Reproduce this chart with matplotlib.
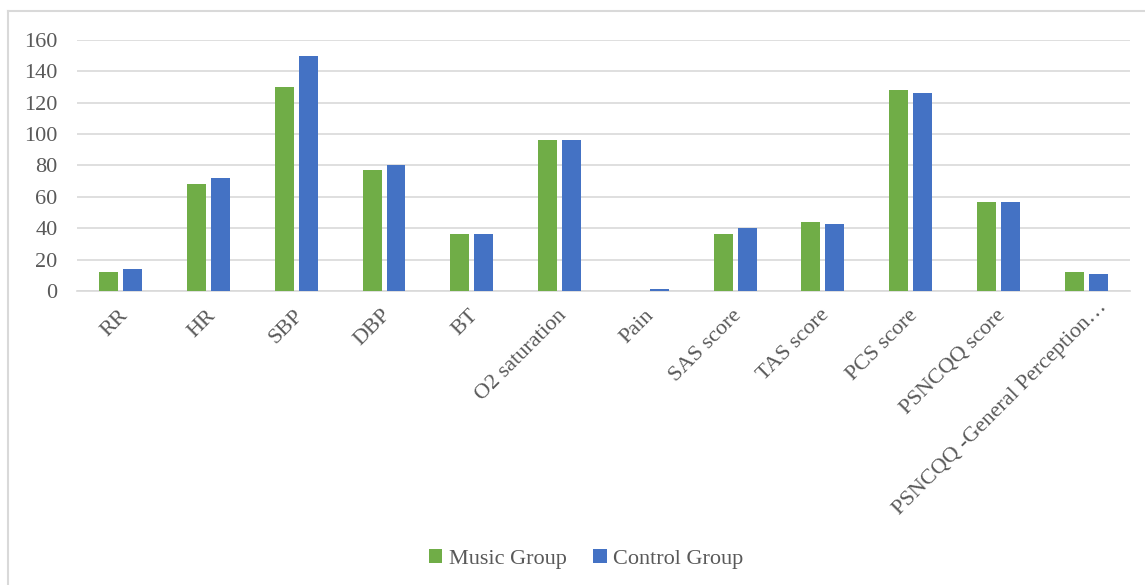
import numpy as np
import matplotlib
matplotlib.use("Agg")
import matplotlib.pyplot as plt
import matplotlib.transforms as mtransforms
from matplotlib.lines import Line2D

# Data
categories = ["RR", "HR", "SBP", "DBP", "BT", "O2 saturation", "Pain",
              "SAS score", "TAS score", "PCS score", "PSNCQQ score",
              "PSNCQQ -General Perception\u2026"]
music = [12, 68, 130, 77, 36, 96, 0, 36, 44, 128, 57, 12]
control = [14, 72, 150, 80, 36, 96, 1.5, 40, 43, 126, 57, 11]
yticks = [0, 20, 40, 60, 80, 100, 120, 140, 160]

plt.rcParams["font.family"] = ["Liberation Serif", "DejaVu Serif"]
text_color = "#595959"

fig = plt.figure(figsize=(11.45, 5.85), dpi=100)
ax = fig.add_axes([0.0672, 0.5026, 0.9197, 0.4291])

x = np.arange(len(categories))
w = 0.216
off = 0.136
ax.bar(x - off, music, w, color="#70ad47", label="Music Group", zorder=3)
ax.bar(x + off, control, w, color="#4472c4", label="Control Group", zorder=3)

ax.set_xlim(-0.5, len(categories) - 0.5)
ax.set_ylim(0, 160)
ax.set_yticks(yticks)
ax.yaxis.grid(True, color="#d9d9d9", linewidth=1.2, zorder=0)
for s in ["top", "right", "left"]:
    ax.spines[s].set_visible(False)
ax.spines["bottom"].set_color("#d9d9d9")
ax.spines["bottom"].set_linewidth(1.2)
ax.tick_params(axis="both", length=0, labelsize=16, colors=text_color)
ax.tick_params(axis="y", pad=14)
ax.tick_params(axis="x", pad=12)
ax.set_xticks(x)
ax.set_xticklabels(categories, rotation=45, ha="right", va="center",
                   rotation_mode="anchor")

# nudge the rotated labels (the truncated last one sits further along)
labels = ax.get_xticklabels()
for i, lab in enumerate(labels):
    if i == len(labels) - 1:
        dx, dy = 18, 3
    else:
        dx, dy = 4, -5
    lab.set_transform(lab.get_transform() +
                      mtransforms.ScaledTranslation(dx / 100, dy / 100, fig.dpi_scale_trans))

fig.legend(loc="center", bbox_to_anchor=(0.512, 0.045), ncol=2, frameon=False,
           fontsize=16, handlelength=0.6, handleheight=0.6, handletextpad=0.3,
           columnspacing=1.2, labelcolor=text_color)

# chart frame: only left and top edges fall inside the picture
fig.add_artist(Line2D([8 / 1145, 8 / 1145], [0, 1 - 11 / 585], color="#d9d9d9",
                      linewidth=1.5, transform=fig.transFigure))
fig.add_artist(Line2D([8 / 1145, 1], [1 - 11 / 585, 1 - 11 / 585], color="#d9d9d9",
                      linewidth=1.5, transform=fig.transFigure))

fig.savefig("out.png", dpi=100)
